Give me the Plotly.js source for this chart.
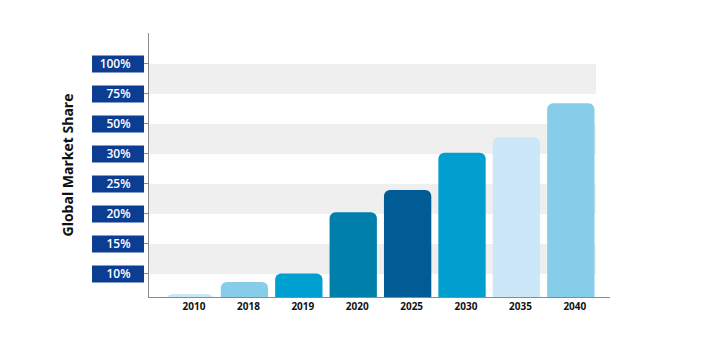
<!DOCTYPE html>
<html>
<head>
<meta charset="utf-8">
<script src="https://cdn.plot.ly/plotly-3.0.1.min.js"></script>
<style>html,body{margin:0;padding:0;background:#fff;}#chart{width:720px;height:356px;}</style>
</head>
<body>
<div id="chart"></div>
<script>
// Categories (years)
const years = ['2010', '2018', '2019', '2020', '2025', '2030', '2035', '2040'];
// Bar heights read on the labelled share scale (1 = 10%, 2 = 15%, ... 8 = 100%)
const shareLevel = [0.33, 0.73, 1.02, 3.06, 3.8, 5.04, 5.56, 6.69];
// Y-axis tick labels and their positions on the scale
const tickLevels = [1, 2, 3, 4, 5, 6, 7, 8];
const tickLabels = ['10%', '15%', '20%', '25%', '30%', '50%', '75%', '100%'];
// Bar colours
const barColors = ['#cbe7f8', '#87cdea', '#009fd1', '#007fab', '#015b94', '#009fcf', '#cce7f8', '#86cdea'];

const trace = {
  type: 'bar',
  x: years,
  y: shareLevel,
  marker: {color: barColors, cornerradius: 6, line: {width: 0}},
  hoverinfo: 'skip'
};

const shapes = [];
// alternating grey bands
for (let i = 0; i < tickLevels.length; i += 2) {
  shapes.push({
    type: 'rect', layer: 'below', xref: 'paper', yref: 'y',
    x0: 0, x1: 0.9696, y0: tickLevels[i], y1: tickLevels[i + 1],
    fillcolor: '#efefef', line: {width: 0}
  });
}
// label boxes
tickLevels.forEach(v => {
  shapes.push({
    type: 'rect', layer: 'below', xref: 'paper', yref: 'y',
    x0: -0.1236, x1: -0.0108, y0: v - 0.283, y1: v + 0.283,
    fillcolor: '#0b3d93', line: {width: 0}
  });
});

const layout = {
  width: 720, height: 356,
  margin: {l: 149, r: 110, t: 33, b: 59},
  paper_bgcolor: '#ffffff', plot_bgcolor: 'rgba(0,0,0,0)',
  showlegend: false,
  bargap: 0.13,
  xaxis: {
    type: 'category',
    range: [-0.754, 7.72],
    showline: true, linecolor: '#8a8a8a', linewidth: 1,
    ticks: '', showgrid: false, zeroline: false,
    ticklabelshift: 4,
    tickfont: {family: 'Open Sans, sans-serif', size: 10, color: '#111111', weight: 700}
  },
  yaxis: {
    range: [0.233, 9.03],
    showline: true, linecolor: '#8a8a8a', linewidth: 1,
    ticks: 'outside', ticklen: 4, tickcolor: '#8a8a8a',
    tickvals: tickLevels, ticktext: tickLabels,
    ticklabelstandoff: 11,
    showgrid: false, zeroline: false,
    tickfont: {family: 'Open Sans, sans-serif', size: 12, color: '#ffffff', weight: 600},
    title: {text: 'Global Market Share', standoff: 22,
            font: {family: 'Open Sans, sans-serif', size: 14, color: '#111111', weight: 700}}
  },
  shapes: shapes
};

Plotly.newPlot('chart', [trace], layout, {staticPlot: true, displayModeBar: false});
</script>
</body>
</html>
